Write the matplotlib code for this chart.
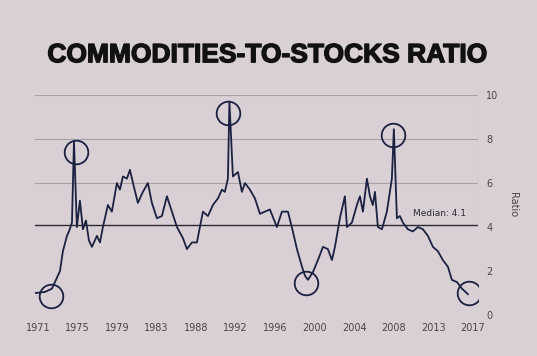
import matplotlib.pyplot as plt
import matplotlib.patheffects as pe

# data (decimal year, ratio)
years = [1970.68, 1971.74, 1972.48, 1973.33, 1973.64, 1974.07, 1974.28, 1974.60, 1974.81,
         1975.12, 1975.44, 1975.76, 1976.08, 1976.39, 1976.71, 1977.24, 1977.56, 1977.87,
         1978.40, 1978.82, 1979.35, 1979.67, 1979.99, 1980.41, 1980.73, 1981.05, 1981.57,
         1982.10, 1982.63, 1983.05, 1983.58, 1984.11, 1984.64, 1985.17, 1985.70, 1986.33,
         1986.76, 1987.28, 1987.81, 1988.13, 1988.45, 1988.98, 1989.50, 1990.03, 1990.46,
         1990.77, 1991.09, 1991.25, 1991.62, 1992.15, 1992.57, 1992.89, 1993.42, 1993.95,
         1994.48, 1995.00, 1995.53, 1996.27, 1996.80, 1997.44, 1997.96, 1998.39, 1998.92,
         1999.23, 1999.55, 2000.08, 2000.61, 2001.14, 2001.66, 2002.09, 2002.41, 2002.93,
         2003.46, 2003.68, 2004.20, 2004.73, 2005.05, 2005.37, 2005.79, 2006.11, 2006.42,
         2006.64, 2006.95, 2007.38, 2007.90, 2008.43, 2008.64, 2008.96, 2009.28, 2009.60,
         2010.12, 2010.65, 2011.18, 2011.71, 2012.24, 2012.77, 2013.30, 2013.82, 2014.35,
         2014.78, 2015.31, 2015.84, 2016.47]
ratio = [1.0, 1.05, 1.2, 2.0, 2.9, 3.6, 3.8, 4.2, 7.9,
         4.0, 5.2, 3.9, 4.3, 3.4, 3.1, 3.6, 3.3, 4.0,
         5.0, 4.7, 6.0, 5.7, 6.3, 6.2, 6.6, 6.0, 5.1,
         5.6, 6.0, 5.1, 4.4, 4.5, 5.4, 4.7, 4.0, 3.5,
         3.0, 3.3, 3.3, 4.0, 4.7, 4.5, 5.0, 5.3, 5.7,
         5.6, 6.2, 9.7, 6.3, 6.5, 5.6, 6.0, 5.7, 5.3,
         4.6, 4.7, 4.8, 4.0, 4.7, 4.7, 3.8, 3.0, 2.2,
         1.8, 1.6, 1.95, 2.5, 3.1, 3.0, 2.5, 3.1, 4.4,
         5.4, 4.0, 4.2, 5.0, 5.4, 4.7, 6.2, 5.4, 5.0,
         5.6, 4.0, 3.9, 4.7, 6.2, 8.45, 4.4, 4.5, 4.2,
         3.9, 3.8, 4.0, 3.9, 3.6, 3.1, 2.9, 2.5, 2.2,
         1.6, 1.5, 1.2, 0.95]

median = 4.1

# circled extremes
circle_years = [1972.4, 1975.0, 1991.1, 1999.4, 2008.55, 2016.6]
circle_vals = [0.85, 7.4, 9.2, 1.45, 8.2, 1.0]

tick_labels = ["1971", "1975", "1979", "1983", "1988", "1992",
               "1996", "2000", "2004", "2008", "2013", "2017"]
y_ticks = [0, 2, 4, 6, 8, 10]
grid_vals = [6, 8, 10]

bg = "#d9d0d5"
ink = "#1b2140"

fig = plt.figure(figsize=(5.37, 3.56), dpi=100, facecolor=bg)
ax = fig.add_axes([0.065, 0.115, 0.825, 0.618], facecolor=bg)

for g in grid_vals:
    ax.axhline(g, color="#a7a0a5", lw=0.8, zorder=1)
ax.axvline(2017.5, ymin=0.42, ymax=1.0, color="#a7a0a5", lw=0.8, zorder=1)

ax.axhline(median, color="#2a2a30", lw=1.0, zorder=2)
ax.text(2016.3, median + 0.3, f"Median: {median}", fontsize=6.5, color="#2a2a30",
        ha="right", va="bottom")

ax.plot(years, ratio, color=ink, lw=1.3, zorder=3)
ax.plot(circle_years, circle_vals, "o", ms=17, mfc="none", mec=ink, mew=1.3, zorder=4)

ax.set_xlim(1970.68, 2017.53)
ax.set_ylim(0, 10)
step = 46 / 11
ax.set_xticks([1971 + i * step for i in range(len(tick_labels))])
ax.set_xticklabels(tick_labels, fontsize=7, color="#4a4448")
ax.yaxis.tick_right()
ax.yaxis.set_label_position("right")
ax.set_yticks(y_ticks)
ax.set_yticklabels([str(v) for v in y_ticks], fontsize=7, color="#4a4448")
ax.set_ylabel("Ratio", fontsize=7, color="#4a4448", rotation=270, labelpad=14)
ax.tick_params(length=0, pad=6)
for s in ax.spines.values():
    s.set_visible(False)

t = fig.text(0.497, 0.845, "COMMODITIES-TO-STOCKS RATIO", fontsize=19, fontweight="heavy",
             family="Liberation Sans", color="#111111", ha="center", va="center")
t.set_path_effects([pe.Stroke(linewidth=1.0, foreground="#111111"), pe.Normal()])

fig.savefig("out.png", dpi=100, facecolor=bg)
